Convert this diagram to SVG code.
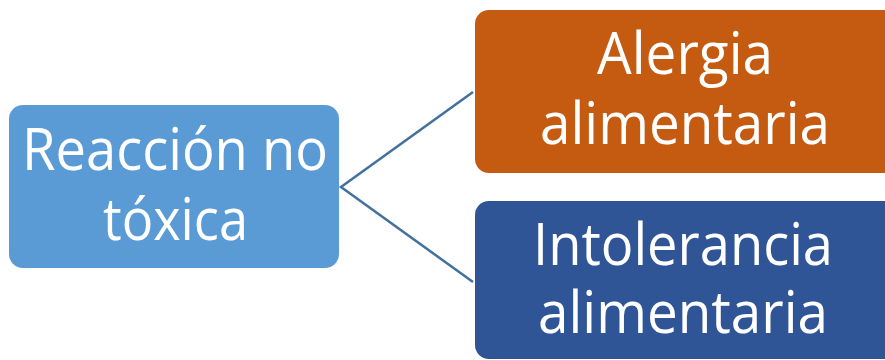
<svg xmlns="http://www.w3.org/2000/svg" width="885" height="360" viewBox="0 0 885 360">
<style>
.t{font-family:"Open Sans","Noto Sans",sans-serif;font-size:58px;fill:#fff;text-anchor:middle}
.c{stroke:#41719C;stroke-width:2.5;fill:none}
</style>
<rect width="885" height="360" fill="#fff"/>
<g id="connectors">
<polyline class="c" points="473,92 341,187 473,282"/>
</g>
<g id="n1">
<rect x="9" y="105" width="330" height="163" rx="14" fill="#5B9BD5"/>
<text class="t" x="175" y="170" textLength="306" lengthAdjust="spacingAndGlyphs">Reacción no</text>
<text class="t" x="175.5" y="240" textLength="145" lengthAdjust="spacingAndGlyphs">tóxica</text>
</g>
<g id="n2">
<rect x="475" y="10" width="425" height="163" rx="14" fill="#C55A11"/>
<text class="t" x="685" y="74" textLength="176" lengthAdjust="spacingAndGlyphs">Alergia</text>
<text class="t" x="685" y="144" textLength="290" lengthAdjust="spacingAndGlyphs">alimentaria</text>
</g>
<g id="n3">
<rect x="475" y="201" width="425" height="158" rx="14" fill="#2F5597"/>
<text class="t" x="683" y="265" textLength="300" lengthAdjust="spacingAndGlyphs">Intolerancia</text>
<text class="t" x="683" y="333" textLength="290" lengthAdjust="spacingAndGlyphs">alimentaria</text>
</g>
</svg>
